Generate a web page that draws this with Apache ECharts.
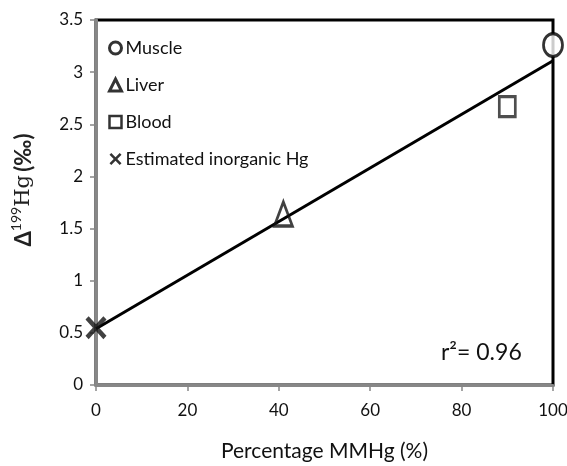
<!DOCTYPE html>
<html>
<head>
<meta charset="utf-8">
<script src="https://cdn.jsdelivr.net/npm/echarts@6/dist/echarts.min.js"></script>
<style>html,body{margin:0;padding:0;background:#fff}#c{width:567px;height:466px}</style>
</head>
<body>
<div id="c"></div>
<script>
// Data
var seriesNames = ['Muscle', 'Liver', 'Blood', 'Estimated inorganic Hg'];
var musclePts = [[100, 3.26]];
var liverPts = [[41, 1.64]];
var bloodPts = [[90, 2.67]];
var inorganicPts = [[0, 0.55]];
var fitLine = [[0, 0.54], [100, 3.11]];
var rSquared = '0.96';
var xTicks = [0, 20, 40, 60, 80, 100];
var yTicks = [0, 0.5, 1, 1.5, 2, 2.5, 3, 3.5];

var FONT = 'Lato';
var XPATH = 'path://M3,0 L10,7 L17,0 L20,3 L13,10 L20,17 L17,20 L10,13 L3,20 L0,17 L7,10 L0,3 Z';

var chart = echarts.init(document.getElementById('c'), null, {renderer: 'canvas'});
chart.setOption({
  animation: false,
  backgroundColor: '#fff',
  grid: {left: 96, right: 14, top: 20, bottom: 81, show: true, borderColor: '#000', borderWidth: 3,
         containLabel: false, outerBoundsMode: 'none'},
  xAxis: {
    type: 'value', min: xTicks[0], max: xTicks[xTicks.length - 1], interval: 20,
    name: 'Percentage MMHg (%)', nameLocation: 'middle', nameGap: 56,
    nameTextStyle: {fontFamily: FONT, fontSize: 21, color: '#111'},
    axisLine: {show: true, lineStyle: {color: '#878787', width: 3}},
    axisTick: {show: true, length: 6, lineStyle: {color: '#878787', width: 1.5}},
    axisLabel: {margin: 17, fontFamily: FONT, fontSize: 17, color: '#111'},
    splitLine: {show: false}
  },
  yAxis: {
    type: 'value', min: yTicks[0], max: yTicks[yTicks.length - 1], interval: 0.5,
    axisLine: {show: true, lineStyle: {color: '#878787', width: 3}},
    axisTick: {show: true, length: 6, lineStyle: {color: '#878787', width: 1.5}},
    axisLabel: {margin: 13, fontFamily: FONT, fontSize: 17, color: '#111'},
    splitLine: {show: false}
  },
  legend: {
    orient: 'vertical', left: 103, top: 34, itemGap: 19, itemWidth: 12, itemHeight: 12,
    textStyle: {fontFamily: FONT, fontSize: 18, color: '#111', padding: [0, 0, 0, -1]},
    data: [
      {name: seriesNames[0], icon: 'circle', itemStyle: {color: '#fff', borderColor: '#000', borderWidth: 3}},
      {name: seriesNames[1], icon: 'triangle', itemStyle: {color: '#fff', borderColor: '#000', borderWidth: 3}},
      {name: seriesNames[2], icon: 'rect', itemStyle: {color: '#fff', borderColor: '#000', borderWidth: 2.5}},
      {name: seriesNames[3], icon: XPATH, itemStyle: {color: '#000', borderWidth: 0}}
    ]
  },
  graphic: [
    {type: 'text', left: 441, top: 341, style: {text: 'r²= ' + rSquared, font: '23px ' + FONT, fill: '#111'}},
    {type: 'text', x: 24, y: 190, rotation: Math.PI / 2, style: {
      text: '{a|Δ}{s|199}{h|Hg} {a|(‰)}', align: 'center', verticalAlign: 'middle',
      rich: {
        a: {fontFamily: FONT, fontSize: 22, fontWeight: 'bold', fill: '#222'},
        s: {fontFamily: FONT, fontSize: 14, fill: '#222', verticalAlign: 'top', lineHeight: 30, padding: [0, 0, 9, 0]},
        h: {fontFamily: 'DejaVu Serif', fontSize: 21, fill: '#222'}
      }
    }}
  ],
  series: [
    {type: 'line', data: fitLine, symbol: 'none', lineStyle: {color: '#000', width: 3}, z: 1, silent: true},
    {name: seriesNames[0], type: 'scatter', data: musclePts, symbol: 'circle', symbolSize: [19, 23], itemStyle: {color: '#fff', borderColor: '#000', borderWidth: 3}, z: 3},
    {name: seriesNames[1], type: 'scatter', data: liverPts, symbol: 'triangle', symbolSize: [18, 24], itemStyle: {color: 'rgba(0,0,0,0)', borderColor: '#111', borderWidth: 3}, z: 3},
    {name: seriesNames[2], type: 'scatter', data: bloodPts, symbol: 'rect', symbolSize: [16, 20], itemStyle: {color: '#fff', borderColor: '#222', borderWidth: 3}, z: 3},
    {name: seriesNames[3], type: 'scatter', data: inorganicPts, symbol: XPATH, symbolSize: [21, 23], itemStyle: {color: '#111'}, z: 3}
  ]
});
</script>
</body>
</html>
